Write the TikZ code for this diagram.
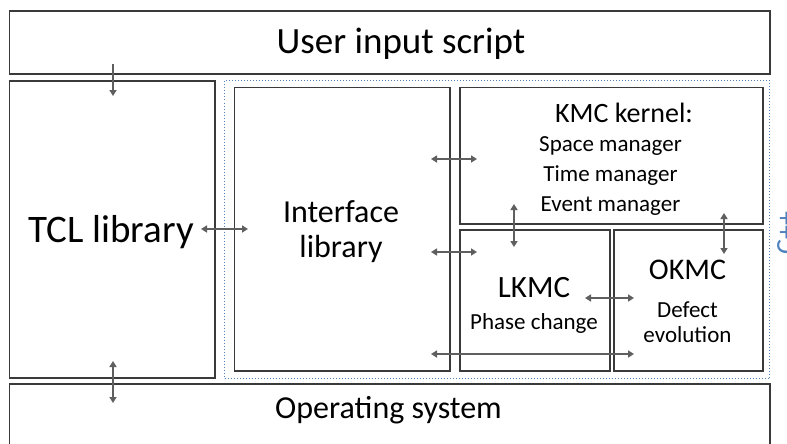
\documentclass[tikz,border=0pt]{standalone}
\usepackage{fontspec}
\setmainfont{Carlito}
\usetikzlibrary{arrows.meta}
\definecolor{boxline}{HTML}{3A3A3A}
\definecolor{arrowc}{HTML}{5F5F5F}
\definecolor{dotblue}{HTML}{4F81BD}
\tikzset{
  blk/.style={draw=boxline, line width=1.6pt, anchor=north west, inner sep=0pt, align=center},
  hugetxt/.style={font=\fontsize{37}{42}\selectfont},
  bigtxt/.style={font=\fontsize{32}{35}\selectfont},
  midtxt/.style={font=\fontsize{30}{34}\selectfont},
  smalltxt/.style={font=\fontsize{23}{30}\selectfont},
  conn/.style={draw=arrowc, line width=2pt, {Triangle[width=7pt,length=6pt]}-{Triangle[width=7pt,length=6pt]}},
  conn1/.style={draw=arrowc, line width=2pt, -{Triangle[width=7pt,length=6pt]}},
}
\begin{document}
\begin{tikzpicture}[x=1pt,y=-1pt]
\useasboundingbox (0,0) rectangle (787,444);
\fill[white] (0,0) rectangle (787,444);
% outer boxes
\node[blk, minimum width=760.5pt, minimum height=63pt] (user) at (8.5,10) {};
\node[hugetxt] (usertext) at (401,44) {User input script};
\node[blk, minimum width=205.5pt, minimum height=297pt] (tcl) at (8.5,80) {};
\node[font=\fontsize{39}{44}\selectfont] (tcltext) at (111,232) {TCL library};
\node[blk, minimum width=760.5pt, minimum height=70pt] (os) at (8.5,383) {};
\node[bigtxt] (ostext) at (388.5,410) {Operating system};
% dotted C++ region
\node[draw=dotblue, dotted, line width=1pt, anchor=north west, inner sep=0pt, minimum width=545pt, minimum height=298pt] (cpp) at (224,80) {};
\node[rotate=90, text=dotblue, font=\fontsize{28}{32}\selectfont, anchor=north, inner sep=0pt] (cpplabel) at (777,233) {C++};
% inner boxes
\node[blk, minimum width=215.5pt, minimum height=283.5pt] (iface) at (233.5,86.5) {};
\node[bigtxt, align=center] (ifacetext) at (341,232) {Interface\\library};
\node[blk, minimum width=303pt, minimum height=136.5pt] (kmc) at (459,86.5) {};
\node[font=\fontsize{28}{32}\selectfont] (kmctitle) at (624,113) {KMC kernel:};
\node[smalltxt, align=center] (kmclist) at (610.5,176) {Space manager\\Time manager\\Event manager};
\node[blk, minimum width=150pt, minimum height=141pt] (lkmc) at (459,229) {};
\node[font=\fontsize{31}{34}\selectfont] (lkmctitle) at (534,288) {LKMC};
\node[smalltxt] (lkmcsub) at (534,323) {Phase change};
\node[blk, minimum width=149pt, minimum height=141pt] (okmc) at (613,229) {};
\node[midtxt] (okmctitle) at (687.5,270) {OKMC};
\node[smalltxt, align=center, font=\fontsize{23}{25}\selectfont] (okmcsub) at (687.5,322) {Defect\\evolution};
% connectors
\coordinate (a1s) at (113,64); \coordinate (a1e) at (113,96);
\draw[conn1] (a1s) -- (a1e);
\coordinate (a2s) at (113,361); \coordinate (a2e) at (113,403);
\draw[conn] (a2s) -- (a2e);
\coordinate (a3s) at (201,229); \coordinate (a3e) at (248,229);
\draw[conn] (a3s) -- (a3e);
\coordinate (a4s) at (431,159); \coordinate (a4e) at (477,159);
\draw[conn] (a4s) -- (a4e);
\coordinate (a5s) at (431,252); \coordinate (a5e) at (477,252);
\draw[conn] (a5s) -- (a5e);
\coordinate (a6s) at (514,204); \coordinate (a6e) at (514,247);
\draw[conn] (a6s) -- (a6e);
\coordinate (a7s) at (724,213); \coordinate (a7e) at (724,254);
\draw[conn] (a7s) -- (a7e);
\coordinate (a8s) at (585,298); \coordinate (a8e) at (634,298);
\draw[conn] (a8s) -- (a8e);
\coordinate (a9s) at (431,354); \coordinate (a9e) at (634,354);
\draw[conn] (a9s) -- (a9e);
\end{tikzpicture}
\end{document}
